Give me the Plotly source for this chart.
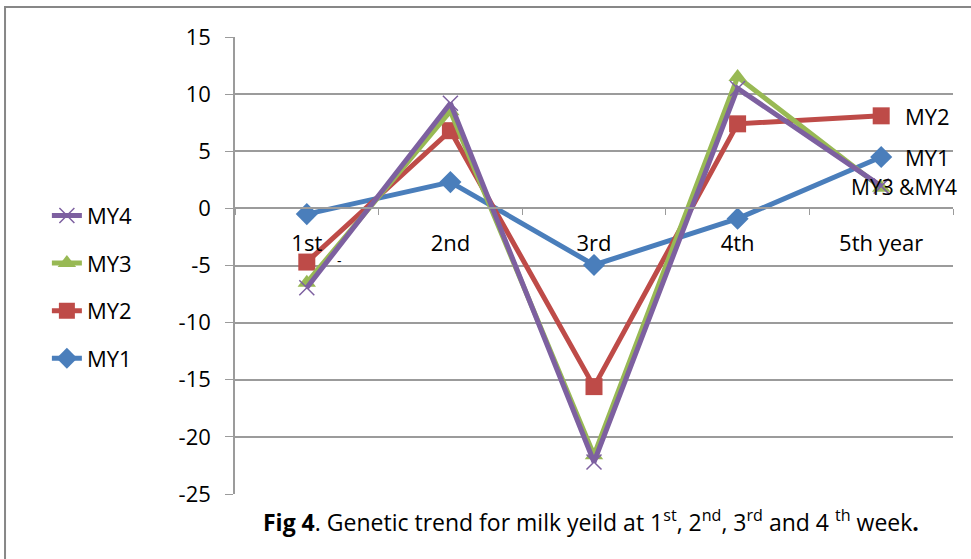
import plotly.graph_objects as go

categories = ["1st", "2nd", "3rd", "4th", "5th year"]
my1 = [-0.5, 2.3, -4.95, -0.9, 4.5]
my2 = [-4.7, 6.8, -15.6, 7.4, 8.1]
my3 = [-6.5, 8.5, -21.6, 11.5, 1.8]
my4 = [-6.95, 9.2, -22.2, 10.5, 1.95]
y_ticks = [15, 10, 5, 0, -5, -10, -15, -20, -25]

FONT = "'Open Sans', sans-serif"
GRID = "#9B9B9B"
FS = 22

series = [
    ("MY1", my1, "#4A7EBB", dict(symbol="diamond", size=17), 4),
    ("MY2", my2, "#BE4B48", dict(symbol="square", size=17), 3),
    ("MY3", my3, "#98B954", dict(symbol="triangle-up", size=16), 2),
    ("MY4", my4, "#7D60A0", dict(symbol="x-thin", size=15, line=dict(width=1.5, color="#7D60A0")), 1),
]

fig = go.Figure()
for name, vals, col, mk, rank in series:
    fig.add_trace(go.Scatter(
        x=categories, y=vals, name=name, mode="lines+markers",
        line=dict(color=col, width=5),
        marker=dict(color=col, **mk),
        legendgroup=name, legendrank=rank,
    ))

fig.update_layout(
    width=971, height=559,
    margin=dict(l=235, r=18, t=37, b=65),
    paper_bgcolor="white", plot_bgcolor="white",
    font=dict(family=FONT, size=FS, color="black"),
    showlegend=True,
    legend=dict(
        x=-0.262, y=0.655, xanchor="left", yanchor="top",
        traceorder="grouped", tracegroupgap=16,
        font=dict(size=FS), bgcolor="rgba(0,0,0,0)",
    ),
    xaxis=dict(
        type="category", categoryorder="array", categoryarray=categories,
        range=[-0.5, 4.5], anchor="free", position=0.625,
        showline=True, linecolor=GRID, linewidth=1.5,
        showgrid=False, ticks="outside", tickson="boundaries",
        ticklen=6, tickcolor=GRID, tickfont=dict(size=FS),
        ticklabelstandoff=15,
    ),
    yaxis=dict(
        range=[-25, 15], tickvals=y_ticks, ticktext=[str(v) for v in y_ticks],
        showgrid=True, gridcolor=GRID,
        gridwidth=1.5, zeroline=False, showline=True, linecolor=GRID,
        linewidth=1.5, ticks="outside", ticklen=8, tickcolor=GRID,
        tickfont=dict(size=FS), ticklabelstandoff=10,
    ),
)

# end-of-series labels
fig.add_annotation(x=4, y=my2[4], text="MY2", showarrow=False, xanchor="left",
                   xshift=22, font=dict(size=FS))
fig.add_annotation(x=4, y=my1[4], text="MY1", showarrow=False, xanchor="left",
                   xshift=22, yshift=0, font=dict(size=FS))
fig.add_annotation(x=4, y=my3[4], text="MY3 &MY4", showarrow=False, xanchor="left",
                   xshift=-32, yshift=1, font=dict(size=21))
fig.add_annotation(x=0, y=-4.6, text="-", showarrow=False, xanchor="left",
                   xshift=28, font=dict(size=14))

# caption
fig.add_annotation(
    xref="paper", yref="paper", x=0.496, y=-0.06, yanchor="middle",
    text="<b>Fig 4</b>. Genetic trend for milk yeild at 1<sup>st</sup>, 2<sup>nd</sup>, 3<sup>rd</sup> and 4 <sup>th</sup> week<b>.</b>",
    showarrow=False, font=dict(size=23),
)

# outer frame
fig.add_shape(type="rect", xref="paper", yref="paper",
              x0=-0.3203, x1=1.1, y0=-0.3, y1=1.0656,
              line=dict(color="#878787", width=2), layer="below")

fig.write_html("out.html")
